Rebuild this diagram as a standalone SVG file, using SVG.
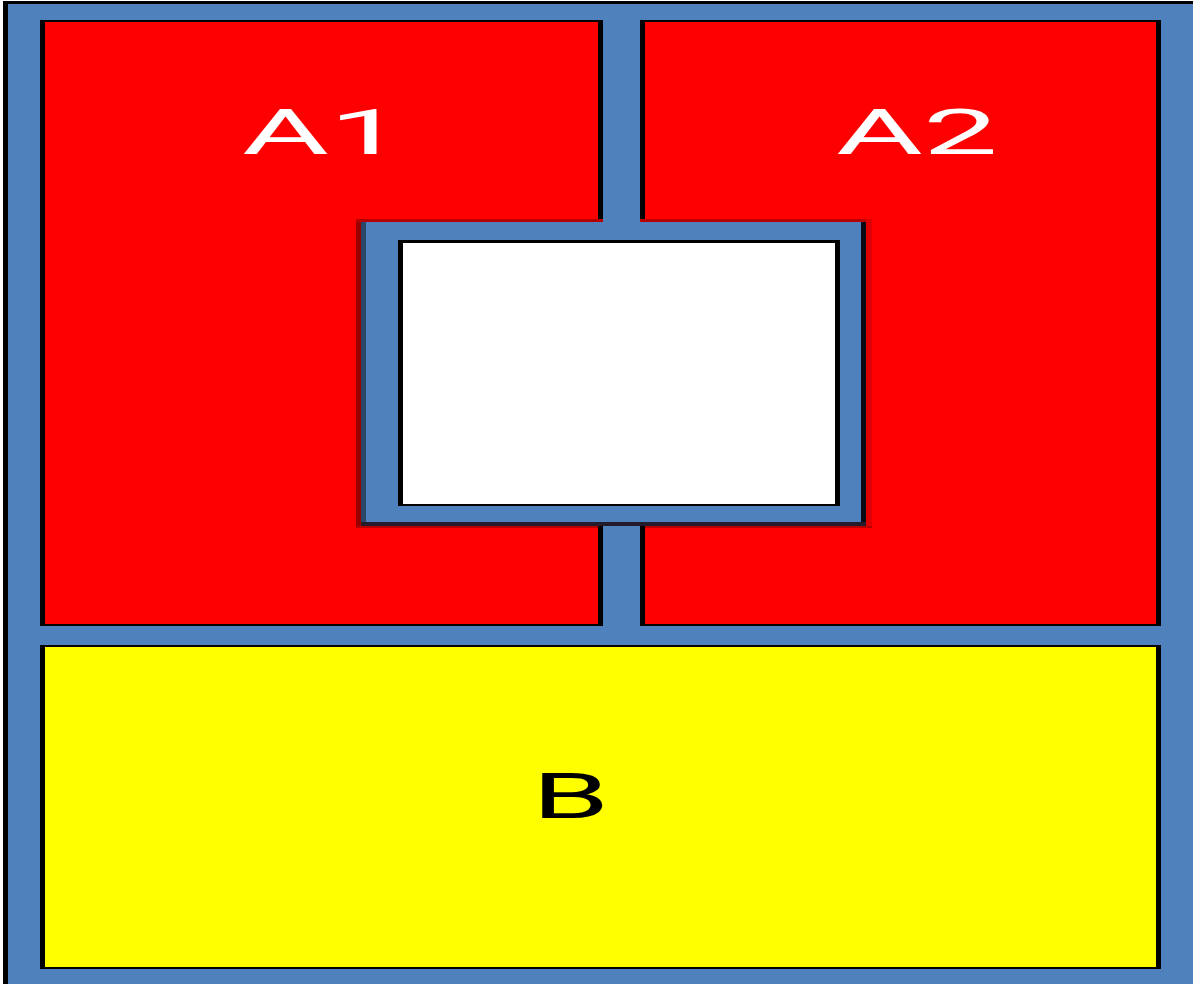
<svg xmlns="http://www.w3.org/2000/svg" width="1193" height="984" viewBox="0 0 1193 984">
  <style>
    .edge { fill: #000000; }
    .blue { fill: #4F81BD; }
    .red { fill: #FF0000; }
    .yellow { fill: #FFFF00; }
    .shadow { fill: #B80000; }
    text { font-family: Roboto, 'Liberation Sans', sans-serif; font-size: 62px; }
  </style>
  <rect x="0" y="0" width="1193" height="984" fill="#ffffff"/>
  <g id="frame">
    <rect class="edge" x="3" y="1" width="1190" height="983"/>
    <rect class="blue" x="8" y="4" width="1185" height="980"/>
  </g>
  <g id="A1">
    <rect class="edge" x="40" y="20" width="563" height="606"/>
    <rect class="red" x="45" y="22" width="553" height="602"/>
    <text fill="#ffffff" transform="translate(242,154) scale(2.15,1)">A1</text>
  </g>
  <g id="A2">
    <rect class="edge" x="640" y="20" width="521" height="606"/>
    <rect class="red" x="645" y="22" width="511" height="602"/>
    <text fill="#ffffff" transform="translate(836,154) scale(2.15,1)">A2</text>
  </g>
  <g id="B">
    <rect class="edge" x="40" y="645" width="1121" height="324"/>
    <rect class="yellow" x="45" y="647" width="1111" height="320"/>
    <text fill="#000000" transform="translate(532,818) scale(2.0,1)">B</text>
  </g>
  <g id="center">
    <rect x="356" y="219" width="5" height="309" fill="#990000"/>
    <rect class="shadow" x="356" y="219" width="247" height="3"/>
    <rect class="shadow" x="640" y="219" width="232" height="3"/>
    <rect x="866" y="219" width="6" height="309" fill="#E00000"/>
    <rect class="shadow" x="356" y="526" width="242" height="2"/>
    <rect class="shadow" x="645" y="526" width="227" height="2"/>
    <rect class="blue" x="361" y="222" width="505" height="304"/>
    <rect x="361" y="222" width="5" height="304" fill="#000000" fill-opacity="0.45"/>
    <rect x="861" y="222" width="5" height="304" fill="#0a0a14"/>
    <rect x="361" y="522" width="505" height="4" fill="#241c2a"/>
  </g>
  <g id="hole">
    <rect class="edge" x="398" y="240" width="442" height="266"/>
    <rect x="403" y="243" width="432" height="261" fill="#ffffff"/>
  </g>
</svg>
